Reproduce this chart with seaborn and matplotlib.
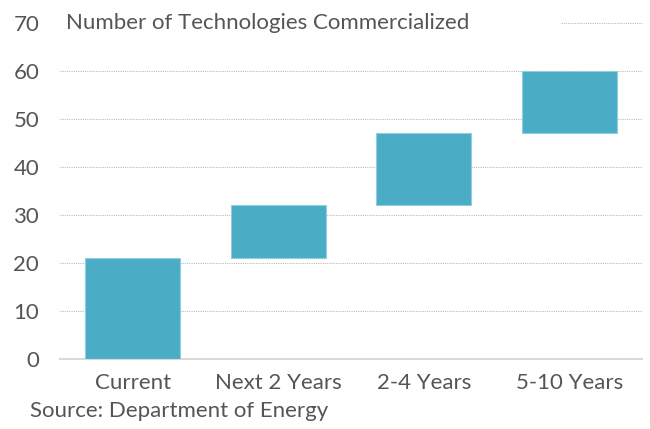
import numpy as np
import pandas as pd
import matplotlib.pyplot as plt
import seaborn as sns

# Data (waterfall: start + increment)
categories = ['Current', 'Next 2 Years', '2-4 Years', '5-10 Years']
increments = [21, 11, 15, 13]
starts = [0, 21, 32, 47]

df = pd.DataFrame({'period': categories, 'added': increments, 'start': starts})

sns.set_style("white")
plt.rcParams['font.family'] = ['Lato', 'DejaVu Sans']

text_col = '#555555'
bar_col = '#4BACC6'
grid_col = '#bbbbbb'

fig = plt.figure(figsize=(6.5, 4.29), dpi=100)
ax = fig.add_axes([0.0923, 0.1632, 0.8954, 0.7832])

sns.barplot(data=df, x='period', y='added', bottom=df['start'],
            color=bar_col, width=0.65, edgecolor='#8fd0e0', linewidth=0.8,
            saturation=1, ax=ax, zorder=3)

ax.set_ylim(0, 70)
ax.set_xlim(-0.5, 3.5)
ax.set_yticks(range(0, 71, 10))
ax.yaxis.grid(True, linestyle=(0, (1, 1)), color=grid_col, linewidth=0.8)
ax.set_axisbelow(True)
# the top gridline is hidden behind the title, only its right end shows
ax.get_ygridlines()[-1].set_visible(False)
ax.axhline(70, xmin=0.86, xmax=1, linestyle=(0, (1, 1)), color=grid_col,
           linewidth=0.8, clip_on=False)

for s in ['top', 'right', 'left']:
    ax.spines[s].set_visible(False)
ax.spines['bottom'].set_color('#d9d9d9')
ax.spines['bottom'].set_linewidth(1.5)

ax.tick_params(axis='y', length=0, pad=15, labelsize=16, labelcolor=text_col)
ax.tick_params(axis='x', length=0, pad=10, labelsize=16, labelcolor=text_col)
ax.set_xlabel('')
ax.set_ylabel('')

ax.text(-0.46, 70, 'Number of Technologies Commercialized', fontsize=16,
        color=text_col, va='center', ha='left', zorder=5)

fig.text(0.046, 0.042, 'Source: Department of Energy', fontsize=16,
         color=text_col, ha='left', va='center')

plt.savefig('out.png', dpi=100)
